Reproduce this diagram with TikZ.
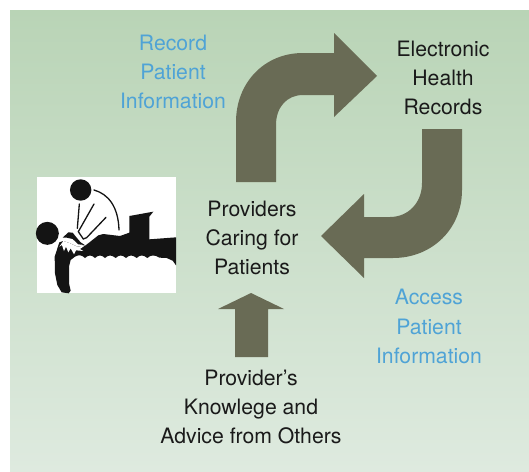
\documentclass[tikz,border=0pt]{standalone}
\usepackage{fontspec}
\setmainfont{TeX Gyre Heros}
\definecolor{arrowfill}{HTML}{696B55}
\definecolor{bluetext}{HTML}{4FA3D6}
\definecolor{inktext}{HTML}{1A1A1A}
\definecolor{bgtop}{HTML}{B9D4B6}
\definecolor{bgbottom}{HTML}{DEEADF}
\definecolor{ink}{HTML}{141414}
\tikzset{
  label text/.style={align=center,font=\fontsize{21.2}{29.3}\selectfont,inner sep=0pt},
  dark text/.style={label text,text=inktext},
  blue text/.style={label text,text=bluetext},
  block arrow/.style={fill=arrowfill,draw=none},
  ink fill/.style={fill=ink,draw=none},
  ink line/.style={draw=ink,line width=1.3pt,line cap=round,fill=none}
}
\begin{document}
\begin{tikzpicture}[x=1pt,y=-1pt]
\useasboundingbox (0,0) rectangle (529,471);
\fill[white] (0,0) rectangle (529,471);
\shade[shading angle=3,top color=bgtop,bottom color=bgbottom] (10,10) rectangle (529,471);
% curved arrow to the records
\path[block arrow] (236,182) -- (236,122) .. controls (236,83) and (264,53) .. (303,53)
  -- (334,53) -- (334,33) -- (377,76) -- (334,117) -- (334,95) -- (303,95)
  .. controls (287,95) and (276,107) .. (276,125) -- (276,182) -- cycle;
% curved arrow to the providers
\path[block arrow] (462,129) -- (462,190) .. controls (462,229) and (432,258) .. (393,258)
  -- (364,258) -- (364,278) -- (321,236) -- (364,194) -- (364,217) -- (390,217)
  .. controls (408,217) and (422,203) .. (422,183) -- (422,129) -- cycle;
% straight arrow
\path[block arrow] (235,357) -- (235,309) -- (218,309) -- (251,293) -- (284,309) -- (268,309) -- (268,357) -- cycle;
% picture
\fill[white] (37,177) rectangle (176,293);
\begin{scope}[shift={(20pt,-160pt)},x=0.33333pt,y=-0.33333pt]
  \fill[ink] (182,90) circle[radius=10.7pt];
  \fill[ink] (82,220) circle[radius=11.5pt];
  \path[ink fill] (118,247) -- (104,290) -- (105,340) -- (112,375) -- (125,397) -- (146,400) -- (152,392)
    -- (147,370) -- (147,320) -- (152,300) -- (165,290)
    .. controls (175,284) and (185,284) .. (195,294)
    .. controls (205,284) and (215,284) .. (225,294)
    .. controls (235,284) and (245,284) .. (255,294)
    .. controls (265,284) and (275,284) .. (287,294)
    .. controls (297,284) and (307,284) .. (318,294)
    .. controls (328,284) and (338,284) .. (350,294)
    .. controls (360,284) and (370,284) .. (382,294)
    .. controls (392,284) and (405,284) .. (418,293)
    -- (440,294) -- (458,302) -- (468,316) -- (468,232) -- (388,238) -- (388,170) -- (400,155) -- (328,168)
    -- (328,218) -- (300,228) -- (250,222) -- (235,226) -- (197,256) -- (172,260) -- (150,250) -- (130,243) -- cycle;
  % burst
  \path[fill=white,draw=none] (130,243) -- (150,250) -- (172,260) -- (194,257) -- (180,267) -- (190,273) -- (168,271)
    -- (162,283) -- (152,265) -- (145,277) -- (138,260) -- (132,273) -- (126,255) -- (118,260) -- cycle;
  % hand
  \path[ink fill] (128,233) -- (145,217) -- (158,218) -- (170,233) -- (182,247) -- (194,255) -- (175,253) -- (158,237) -- (140,233) -- cycle;
  % arms and back
  \draw[ink line] (178,132) -- (172,205);
  \draw[ink line] (222,132) -- (175,215) -- (190,237) -- (200,233) -- (258,172);
  \draw[ink line] (222,90) .. controls (265,102) and (295,140) .. (297,210);
\end{scope}
% labels
\node[blue text] (record) at (173,72) {Record\\Patient\\Information};
\node[dark text] (ehr) at (443,78) {Electronic\\Health\\Records};
\node[dark text] (care) at (252,238) {Providers\\Caring for\\Patients};
\node[blue text] (access) at (429,326.5) {Access\\Patient\\Information};
\node[dark text] (advice) at (251,407) {Provider's\\Knowlege and\\Advice from Others};
\end{tikzpicture}
\end{document}
